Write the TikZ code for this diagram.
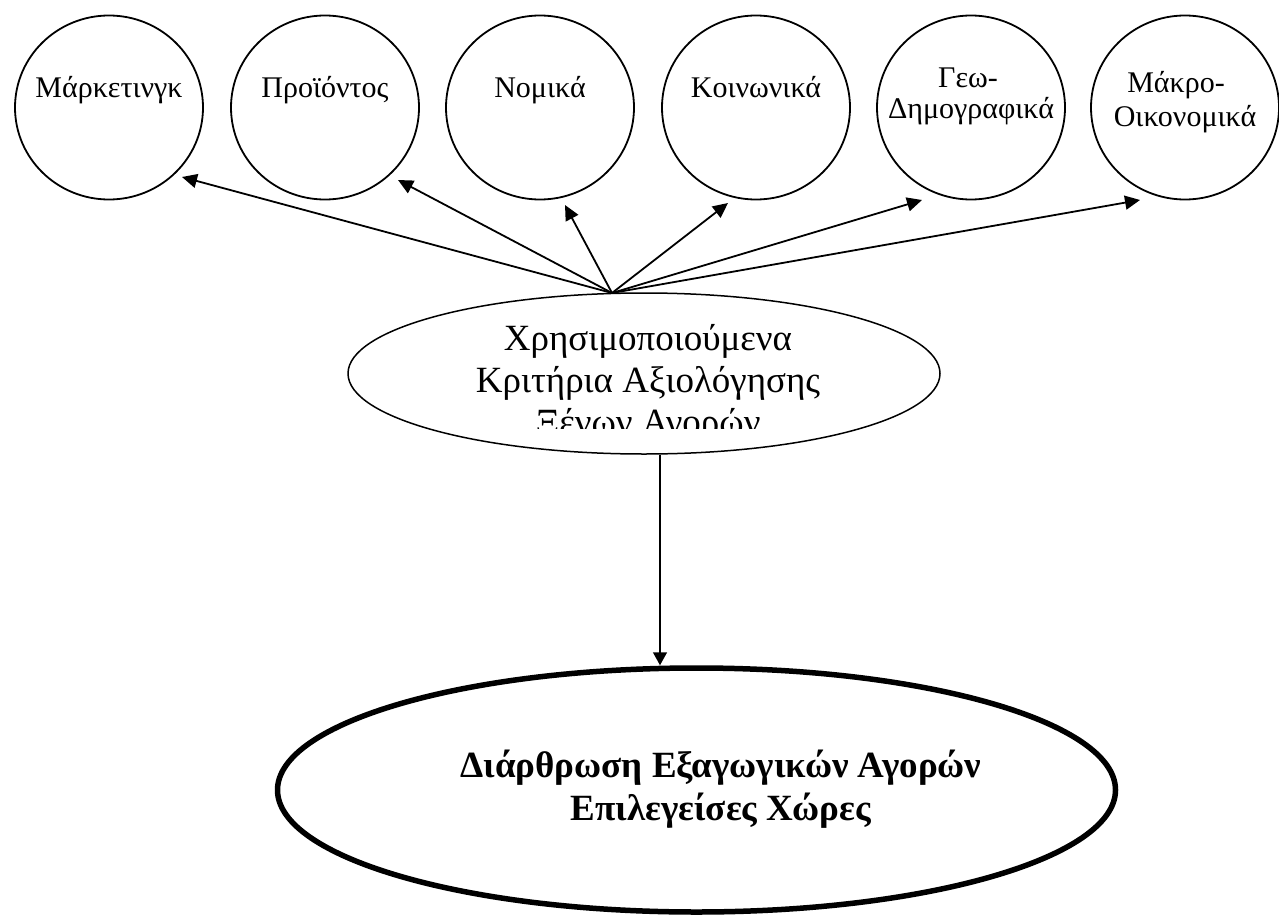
\documentclass[tikz,border=0pt]{standalone}
\usepackage{fontspec}
\setmainfont{Liberation Serif}
\usetikzlibrary{shapes.geometric,arrows.meta,calc}
\begin{document}
\begin{tikzpicture}[x=1pt,y=-1pt,
  crit/.style={draw, ellipse, line width=1.8pt, minimum width=188pt, minimum height=184pt, inner sep=0pt},
  critlabel/.style={font=\fontsize{30}{33}\selectfont, align=center, anchor=base, inner sep=0pt},
  link/.style={line width=1.8pt, -{Triangle[length=15pt,width=14pt]}},
  hubshape/.style={draw, ellipse, line width=1.5pt, minimum width=592pt, minimum height=161pt, inner sep=0pt},
  hubtext/.style={font=\fontsize{37}{42}\selectfont, anchor=base, inner sep=0pt},
  goal/.style={draw, ellipse, line width=5.5pt, minimum width=838pt, minimum height=244pt, inner sep=0pt},
  goaltext/.style={font=\bfseries\fontsize{37}{43}\selectfont, anchor=base, inner sep=0pt},
]
\useasboundingbox (0,0) rectangle (1279,915);

% evaluation criteria
\node[crit] (c1) at (109,107.5) {};
\node[crit] (c2) at (325,107.5) {};
\node[crit] (c3) at (540,107.5) {};
\node[crit] (c4) at (756,107.5) {};
\node[crit] (c5) at (971,107.5) {};
\node[crit] (c6) at (1185,107.5) {};

\node[critlabel] (l1) at (109,98) {Μάρκετινγκ};
\node[critlabel] (l2) at (325,98) {Προϊόντος};
\node[critlabel] (l3) at (540,98) {Νομικά};
\node[critlabel] (l4) at (756,98) {Κοινωνικά};
\node[critlabel] (l5a) at (968,88) {Γεω-};
\node[critlabel] (l5b) at (971,118) {Δημογραφικά};
\node[critlabel] (l6a) at (1176,93) {Μάκρο-};
\node[critlabel] (l6b) at (1185,127) {Οικονομικά};

% central ellipse with its clipped text box
\node[hubshape] (hub) at (644,373.5) {};
\node[hubtext] (h1) at (648,350) {Χρησιμοποιούμενα};
\node[hubtext] (h2) at (648,392) {Κριτήρια Αξιολόγησης};
\begin{scope}
  \clip (400,300) rectangle (900,428);
  \node[hubtext] (h3) at (648,434) {Ξένων Αγορών};
\end{scope}

% resulting market structure
\node[goal] (goal) at (696.5,790) {};
\node[goaltext] (g1) at (721,777) {Διάρθρωση Εξαγωγικών Αγορών};
\node[goaltext] (g2) at (721,820) {Επιλεγείσες Χώρες};

% connectors
\coordinate (src) at (612,293);
\draw[link] (src) -- ($(c1)+(73,69.5)$);
\draw[link] (src) -- ($(c2)+(73,72.5)$);
\draw[link] (src) -- ($(c3)+(25,97.5)$);
\draw[link] (src) -- ($(c4)+(-28,95.5)$);
\draw[link] (src) -- ($(c5)+(-49,92.5)$);
\draw[link] (src) -- ($(c6)+(-45,92.5)$);

\coordinate (vx) at (660,0);
\draw[line width=1.5pt, -{Triangle[length=13pt,width=14pt]}] (hub.south -| vx) -- (goal.north -| vx);
\end{tikzpicture}
\end{document}
